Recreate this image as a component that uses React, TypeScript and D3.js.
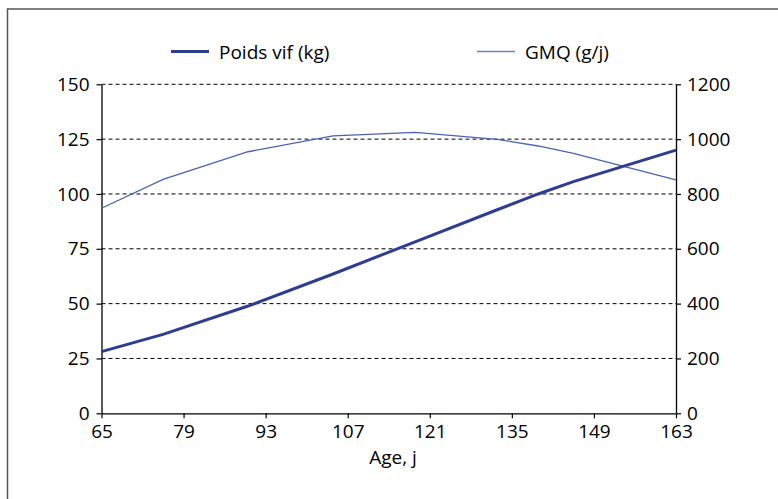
import React, { useEffect, useRef } from "react";
import * as d3 from "d3";

// age (jours) des points mesurés
const ages = [65, 75.5, 90, 104.5, 118.5, 132.5, 139.5, 145.5, 163];
const poidsVif = [28.1, 36, 48.9, 63.5, 78.2, 92.8, 100, 105.6, 120];
const gmq = [748, 853, 954, 1012, 1025, 999, 975, 948, 851];

const xTicks = [65, 79, 93, 107, 121, 135, 149, 163];
const leftTicks = [0, 25, 50, 75, 100, 125, 150];
const rightTicks = [0, 200, 400, 600, 800, 1000, 1200];

const FONT = "'Open Sans', sans-serif";
const FS = 19;

export default function App() {
  const ref = useRef<SVGSVGElement>(null);

  useEffect(() => {
    const svg = d3.select(ref.current);
    svg.selectAll("*").remove();

    const left = 101.5, right = 676, top = 84.3, bottom = 413.3;

    const x = d3.scaleLinear().domain([65, 163]).range([left, right]);
    const yL = d3.scaleLinear().domain([0, 150]).range([bottom, top]);
    const yR = d3.scaleLinear().domain([0, 1200]).range([bottom, top]);

    // cadre
    svg.append("rect")
      .attr("x", 7.5).attr("y", 9)
      .attr("width", 820).attr("height", 540)
      .attr("fill", "none")
      .attr("stroke", "#555")
      .attr("stroke-width", 1.5);

    // grille pointillée
    svg.append("g")
      .selectAll("line")
      .data(leftTicks.filter(d => d > 0))
      .join("line")
      .attr("x1", left).attr("x2", right)
      .attr("y1", d => yL(d)).attr("y2", d => yL(d))
      .attr("stroke", "#000")
      .attr("stroke-width", 1)
      .attr("stroke-dasharray", "4,3");

    const styleAxis = (g: any) => {
      g.select(".domain").attr("stroke", "#000").attr("stroke-width", 1.3);
      g.selectAll(".tick line").attr("stroke", "#000").attr("stroke-width", 1.2);
      g.selectAll(".tick text")
        .attr("font-family", FONT)
        .attr("font-size", FS)
        .attr("fill", "#000");
    };

    svg.append("g")
      .attr("transform", `translate(${left},0)`)
      .call(d3.axisLeft(yL).tickValues(leftTicks).tickSize(5).tickSizeOuter(0).tickPadding(7))
      .call(styleAxis);

    svg.append("g")
      .attr("transform", `translate(${right},0)`)
      .call(d3.axisRight(yR).tickValues(rightTicks).tickFormat(d3.format("d")).tickSize(5).tickSizeOuter(0).tickPadding(6))
      .call(styleAxis);

    svg.append("g")
      .attr("transform", `translate(0,${bottom})`)
      .call(d3.axisBottom(x).tickValues(xTicks).tickFormat(d3.format("d")).tickSize(5).tickSizeOuter(0).tickPadding(6))
      .call(styleAxis);

    svg.append("text")
      .attr("x", 393).attr("y", 464)
      .attr("text-anchor", "middle")
      .attr("font-family", FONT)
      .attr("font-size", FS)
      .attr("fill", "#000")
      .text("Age, j");

    // courbes
    const lineL = d3.line<number>().x((d, i) => x(ages[i])).y(d => yL(d));
    const lineR = d3.line<number>().x((d, i) => x(ages[i])).y(d => yR(d));

    svg.append("path")
      .datum(gmq)
      .attr("d", lineR)
      .attr("fill", "none")
      .attr("stroke", "#4a63b3")
      .attr("stroke-width", 1.3);

    svg.append("path")
      .datum(poidsVif)
      .attr("d", lineL)
      .attr("fill", "none")
      .attr("stroke", "#2e3d94")
      .attr("stroke-width", 3);

    // légende
    const legend = [
      { label: "Poids vif (kg)", x: 171, color: "#2e3d94", w: 3 },
      { label: "GMQ (g/j)", x: 477, color: "#6f82c2", w: 1.5 },
    ];
    const lg = svg.append("g").selectAll("g").data(legend).join("g");
    lg.append("line")
      .attr("x1", d => d.x).attr("x2", d => d.x + 38)
      .attr("y1", 51.5).attr("y2", 51.5)
      .attr("stroke", d => d.color)
      .attr("stroke-width", d => d.w);
    lg.append("text")
      .attr("x", d => d.x + 48).attr("y", 58.5)
      .attr("font-family", FONT)
      .attr("font-size", FS)
      .attr("fill", "#000")
      .text(d => d.label);
  }, []);

  return (
    <svg
      ref={ref}
      width={778}
      height={499}
      style={{ position: "absolute", left: 0, top: 0, background: "#fff" }}
    />
  );
}
